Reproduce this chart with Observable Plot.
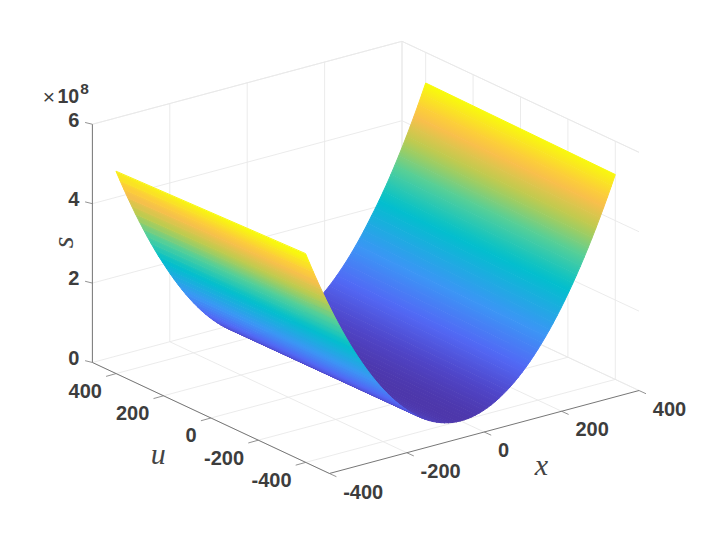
<!DOCTYPE html>
<html><head><meta charset="utf-8">
<script src="https://cdn.jsdelivr.net/npm/d3@7"></script>
<script src="https://cdn.jsdelivr.net/npm/@observablehq/plot@0.6"></script>
<style>html,body{margin:0;padding:0;background:#fff}svg{display:block}</style>
</head><body><div id="chart"></div>
<script>
// Data
const xGrid = [-400,-390,-380,-370,-360,-350,-340,-330,-320,-310,-300,-290,-280,-270,-260,-250,-240,-230,-220,-210,-200,-190,-180,-170,-160,-150,-140,-130,-120,-110,-100,-90,-80,-70,-60,-50,-40,-30,-20,-10,0,10,20,30,40,50,60,70,80,90,100,110,120,130,140,150,160,170,180,190,200,210,220,230,240,250,260,270,280,290,300,310,320,330,340,350,360,370,380,390,400];
// s (in units of 1e8) along the edge u = -400
const sFront = [5.25,4.992,4.74,4.494,4.255,4.022,3.796,3.576,3.363,3.156,2.956,2.762,2.576,2.396,2.223,2.056,1.896,1.742,1.595,1.454,1.32,1.192,1.071,.956,.848,.746,.651,.562,.48,.404,.335,.272,.216,.166,.123,.086,.056,.032,.015,.004,0,.002,.011,.026,.048,.076,.111,.152,.2,.254,.315,.382,.456,.536,.623,.716,.816,.922,1.035,1.154,1.28,1.412,1.551,1.696,1.848,2.006,2.171,2.342,2.52,2.704,2.895,3.092,3.296,3.506,3.723,3.946,4.176,4.412,4.655,4.904,5.16];
// s (in units of 1e8) along the edge u = 400
const sBack = [5.09,4.838,4.592,4.352,4.12,3.892,3.672,3.458,3.25,3.05,2.855,2.668,2.492,2.315,2.145,1.981,1.824,1.673,1.529,1.391,1.26,1.135,1.017,.905,.8,.701,.609,.523,.444,.371,.305,.245,.192,.145,.105,.071,.044,.023,.009,.001,0,.005,.017,.035,.06,.091,.129,.173,.224,.281,.345,.415,.492,.575,.665,.761,.864,.973,1.089,1.211,1.34,1.475,1.617,1.765,1.92,2.081,2.249,2.415,2.592,2.775,2.96,3.158,3.362,3.572,3.788,4.011,4.241,4.477,4.72,4.972,5.23];
const uEdge = [-400, 400];
const xTicks = [-400,-200,0,200,400];
const uTicks = [-400,-200,0,200,400];
const sTicks = [0,2,4,6];
const colorStops = [0,0.35,0.9,1.6,2.6,3.3,3.9,4.5,5.15];
const colorValues = ["#4d37ab","#4f45c8","#5268f5","#3b96f5","#00c0cc","#52cf9a","#b8cc50","#febe4a","#f8f610"];

// Axis box limits and orthographic view of the MATLAB axes
const xLim = [-400, 400], uLim = [-500, 500], sLim = [0, 6];
const view = {ox: 365.2, oy: 376, xx: 0.387, xy: -0.1037, ux: -0.237, uy: -0.111, sy: -39.7};
const px = (x, u, s) => view.ox + x * view.xx + u * view.ux;
const py = (x, u, s) => view.oy + x * view.xy + u * view.uy + s * view.sy;
const seg = (a, b) => ({x1: px(...a), y1: py(...a), x2: px(...b), y2: py(...b)});

const colorScale = Plot.scale({color: {type: "linear", domain: colorStops, range: colorValues, interpolate: "rgb"}});

// surface strips painted far to near, each with a colour gradient across it
const quads = [];
const gradients = [];
const uLen = Math.hypot(view.ux, view.uy);
const nx = -view.uy / uLen, ny = view.ux / uLen;
const meanS = i => (sFront[i] + sBack[i]) / 2;
for (let i = xGrid.length - 2; i >= 0; --i) {
  const id = "surf" + i;
  const a = [xGrid[i], 0, meanS(i)], b = [xGrid[i+1], 0, meanS(i+1)];
  const ax = px(...a), ay = py(...a), bx = px(...b), by = py(...b);
  const d = (bx - ax) * nx + (by - ay) * ny;
  gradients.push({id, x1: ax, y1: ay, x2: ax + d * nx, y2: ay + d * ny, c1: colorScale.apply(meanS(i)), c2: colorScale.apply(meanS(i+1))});
  const corners = [[xGrid[i], uEdge[0], sFront[i]], [xGrid[i+1], uEdge[0], sFront[i+1]], [xGrid[i+1], uEdge[1], sBack[i+1]], [xGrid[i], uEdge[1], sBack[i]]];
  for (const k of corners) quads.push({id, paint: `url(#${id})`, px: px(...k), py: py(...k)});
}
const gradientDefs = () => {
  const defs = d3.create("svg:defs");
  for (const g of gradients) {
    const lg = defs.append("linearGradient").attr("id", g.id).attr("gradientUnits", "userSpaceOnUse")
      .attr("x1", g.x1).attr("y1", g.y1).attr("x2", g.x2).attr("y2", g.y2);
    lg.append("stop").attr("offset", 0).attr("stop-color", g.c1);
    lg.append("stop").attr("offset", 1).attr("stop-color", g.c2);
  }
  return defs.node();
};

// light grid on the three back walls
const grid = [];
for (const s of sTicks) {
  grid.push(seg([xLim[0], uLim[1], s], [xLim[1], uLim[1], s]));
  grid.push(seg([xLim[1], uLim[1], s], [xLim[1], uLim[0], s]));
}
for (const x of xTicks) {
  grid.push(seg([x, uLim[0], 0], [x, uLim[1], 0]));
  grid.push(seg([x, uLim[1], 0], [x, uLim[1], sLim[1]]));
}
for (const u of uTicks) {
  grid.push(seg([xLim[0], u, 0], [xLim[1], u, 0]));
  grid.push(seg([xLim[1], u, 0], [xLim[1], u, sLim[1]]));
}
grid.push(seg([xLim[1], uLim[1], 0], [xLim[1], uLim[1], sLim[1]]));
grid.push(seg([xLim[0], uLim[1], sLim[1]], [xLim[1], uLim[1], sLim[1]]));
grid.push(seg([xLim[1], uLim[1], sLim[1]], [xLim[1], uLim[0], sLim[1]]));

const axes = [
  seg([xLim[0], uLim[1], 0], [xLim[0], uLim[1], sLim[1]]),
  seg([xLim[0], uLim[1], 0], [xLim[0], uLim[0], 0]),
  seg([xLim[0], uLim[0], 0], [xLim[1], uLim[0], 0])
];
const ticks = [
  ...sTicks.map(s => { const a=[xLim[0], uLim[1], s]; return {x1:px(...a), y1:py(...a), x2:px(...a)-7.3, y2:py(...a)-1.8}; }),
  ...uTicks.map(u => { const a=[xLim[0], u, 0]; return {x1:px(...a), y1:py(...a), x2:px(...a)-10, y2:py(...a)+2.8}; }),
  ...xTicks.map(x => { const a=[x, uLim[0], 0]; return {x1:px(...a), y1:py(...a), x2:px(...a)+7, y2:py(...a)+3.2}; })
];
const tickFont = {fontFamily: "'Liberation Sans', Arial, sans-serif", fontSize: 20, fontWeight: 700, fill: "#3d3d3d", stroke: "none"};
const sLabels = sTicks.map(s => ({t: String(s), x: px(xLim[0], uLim[1], s) - 13, y: py(xLim[0], uLim[1], s) - 4}));
const uLabels = uTicks.map(u => ({t: String(u), x: px(xLim[0], u, 0) - 14.2, y: py(xLim[0], u, 0) + 18}));
const xLabels = xTicks.map(x => ({t: String(x), x: px(x, uLim[0], 0) + 13.8, y: py(x, uLim[0], 0) + 18.7}));
const mathFont = {fontFamily: "'Liberation Serif', serif", fontStyle: "italic", fontSize: 30, fill: "#444"};

const chart = Plot.plot({
  width: 706, height: 533, margin: 0,
  x: {domain: [0, 706], range: [0, 706], axis: null},
  y: {domain: [0, 533], range: [0, 533], axis: null},
  style: {background: "#fff"},
  marks: [
    gradientDefs,
    Plot.link(grid, {x1:"x1", y1:"y1", x2:"x2", y2:"y2", stroke:"#e9e9e9", strokeWidth:0.9}),
    Plot.line(quads, {x:"px", y:"py", z:"id", fill:{value:"paint", scale:null}, stroke:{value:"paint", scale:null}, strokeWidth:1, curve:"linear-closed"}),
    Plot.link(axes, {x1:"x1", y1:"y1", x2:"x2", y2:"y2", stroke:"#777", strokeWidth:1}),
    Plot.link(ticks, {x1:"x1", y1:"y1", x2:"x2", y2:"y2", stroke:"#777", strokeWidth:0.8}),
    Plot.text(sLabels, {x:"x", y:"y", text:"t", textAnchor:"end", ...tickFont}),
    Plot.text(uLabels, {x:"x", y:"y", text:"t", textAnchor:"end", ...tickFont}),
    Plot.text(xLabels, {x:"x", y:"y", text:"t", textAnchor:"start", ...tickFont}),
    Plot.text(["×"], {x:48.3, y:97, fontFamily:"'Liberation Sans'", fontSize:21, fill:"#3d3d3d"}),
    Plot.text(["10"], {x:67.8, y:96, fontFamily:"'Liberation Sans'", fontSize:19.5, fontWeight:700, fill:"#3d3d3d"}),
    Plot.text(["8"], {x:84, y:89, fontFamily:"'Liberation Sans'", fontSize:15.5, fontWeight:700, fill:"#3d3d3d"}),
    Plot.text(["s"], {x:63, y:242, rotate:-90, ...mathFont}),
    Plot.text(["u"], {x:157.7, y:453.5, ...mathFont}),
    Plot.text(["x"], {x:541, y:465, ...mathFont})
  ]
});
document.getElementById("chart").append(chart);
</script></body></html>
